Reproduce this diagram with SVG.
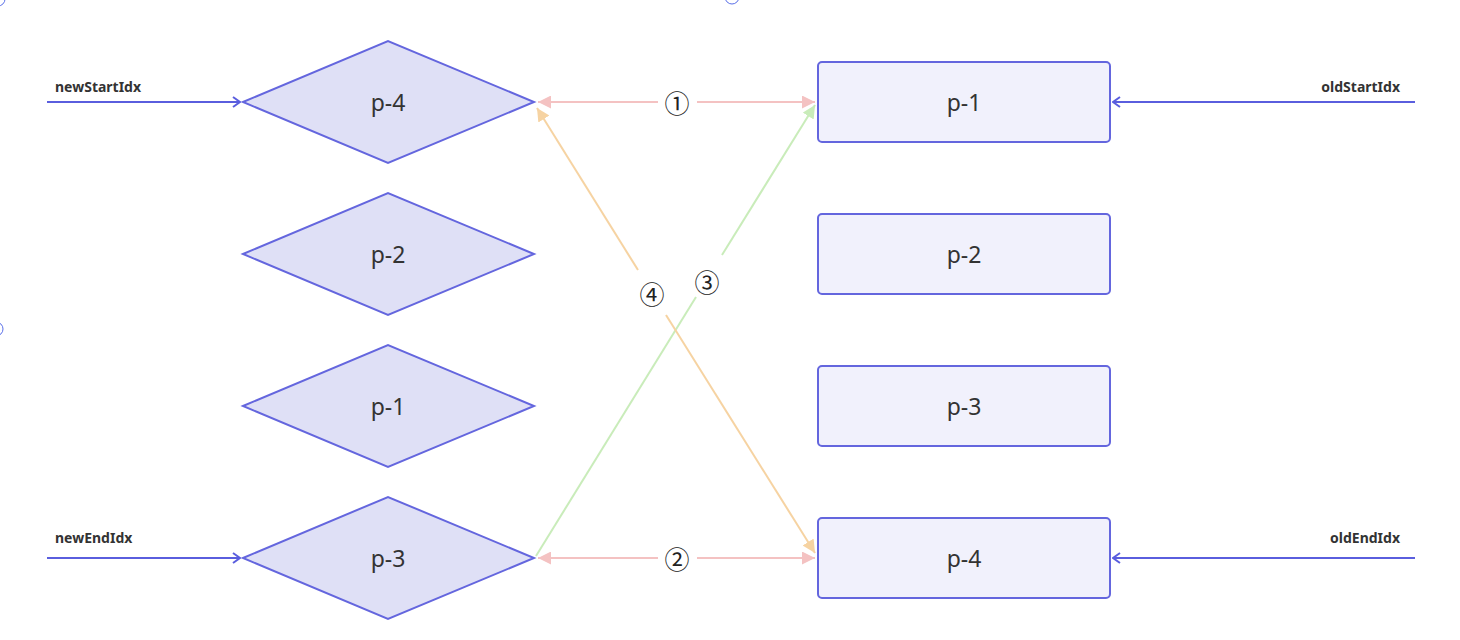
<svg xmlns="http://www.w3.org/2000/svg" width="1460" height="640" viewBox="0 0 1460 640">
<defs>
<style>
.dia{fill:#dfe0f6;stroke:#6466de;stroke-width:2}
.box{fill:#f1f1fc;stroke:#6466de;stroke-width:2}
.nt{font-family:"Source Sans Pro","Noto Sans","Open Sans",sans-serif;font-size:23px;fill:#333;text-anchor:middle;dominant-baseline:central}
.lbl{font-family:"Noto Sans","Open Sans",sans-serif;font-size:14px;font-weight:bold;fill:#333}
.ptr{stroke:#5a5ede;stroke-width:2;fill:none}
.num{font-family:"Noto Sans CJK SC","Noto Sans CJK JP","DejaVu Sans",sans-serif;font-size:25px;fill:#222;text-anchor:middle;dominant-baseline:central}
.pink{stroke:#f4c2c2;stroke-width:2;fill:none}
.orange{stroke:#f6d3a2;stroke-width:2;fill:none}
.green{stroke:#c9ecba;stroke-width:2;fill:none}
.handle{fill:none;stroke:#5a6fe8;stroke-width:1}
</style>
<marker id="chev" viewBox="0 0 12 12" refX="11" refY="6" markerWidth="12" markerHeight="12" markerUnits="userSpaceOnUse" orient="auto">
<path d="M4,1 L11,6 L4,11" fill="none" stroke="#5a5ede" stroke-width="2"/>
</marker>
<marker id="tp" viewBox="0 0 14 14" refX="14" refY="7" markerWidth="13" markerHeight="13" markerUnits="userSpaceOnUse" orient="auto">
<path d="M0,0 L14,7 L0,14 Z" fill="#f4c2c2"/>
</marker>
<marker id="to" viewBox="0 0 14 14" refX="14" refY="7" markerWidth="13" markerHeight="13" markerUnits="userSpaceOnUse" orient="auto">
<path d="M0,0 L14,7 L0,14 Z" fill="#f6d3a2"/>
</marker>
<marker id="tg" viewBox="0 0 14 14" refX="14" refY="7" markerWidth="13" markerHeight="13" markerUnits="userSpaceOnUse" orient="auto">
<path d="M0,0 L14,7 L0,14 Z" fill="#c9ecba"/>
</marker>
</defs>
<rect width="1460" height="640" fill="#fff"/>
<circle class="handle" cx="-2" cy="-1" r="7"/>
<circle class="handle" cx="732" cy="-3" r="7"/>
<circle class="handle" cx="-4" cy="329" r="7"/>

<g id="connectors">
<line class="ptr" x1="47" y1="102" x2="240" y2="102" marker-end="url(#chev)"/>
<line class="ptr" x1="47" y1="558" x2="240" y2="558" marker-end="url(#chev)"/>
<line class="ptr" x1="1415" y1="102" x2="1113" y2="102" marker-end="url(#chev)"/>
<line class="ptr" x1="1415" y1="558" x2="1113" y2="558" marker-end="url(#chev)"/>
<text class="lbl" x="55" y="92">newStartIdx</text>
<text class="lbl" x="55" y="543">newEndIdx</text>
<text class="lbl" x="1400" y="92" text-anchor="end">oldStartIdx</text>
<text class="lbl" x="1400" y="543" text-anchor="end">oldEndIdx</text>

<line class="pink" x1="658" y1="102" x2="538" y2="102" marker-end="url(#tp)"/>
<line class="pink" x1="697" y1="102" x2="815" y2="102" marker-end="url(#tp)"/>
<text class="num" x="677" y="102">①</text>
<line class="pink" x1="658" y1="558" x2="538" y2="558" marker-end="url(#tp)"/>
<line class="pink" x1="697" y1="558" x2="815" y2="558" marker-end="url(#tp)"/>
<text class="num" x="677" y="558">②</text>

<line class="green" x1="536" y1="556" x2="696" y2="297"/>
<line class="green" x1="722" y1="255" x2="815" y2="105" marker-end="url(#tg)"/>
<text class="num" x="707" y="281">③</text>

<line class="orange" x1="666" y1="315" x2="815" y2="553" marker-end="url(#to)"/>
<line class="orange" x1="638" y1="270" x2="537" y2="108" marker-end="url(#to)"/>
<text class="num" x="652" y="293">④</text>
</g>

<g id="new-p4"><polygon class="dia" points="243,102 388,41 534,102 388,163"/><text class="nt" x="388" y="102">p-4</text></g>
<g id="new-p2"><polygon class="dia" points="243,254 388,193 534,254 388,315"/><text class="nt" x="388" y="254">p-2</text></g>
<g id="new-p1"><polygon class="dia" points="243,406 388,345 534,406 388,467"/><text class="nt" x="388" y="406">p-1</text></g>
<g id="new-p3"><polygon class="dia" points="243,558 388,497 534,558 388,619"/><text class="nt" x="388" y="558">p-3</text></g>

<g id="old-p1"><rect class="box" x="818" y="62" width="292" height="80" rx="4"/><text class="nt" x="964" y="102">p-1</text></g>
<g id="old-p2"><rect class="box" x="818" y="214" width="292" height="80" rx="4"/><text class="nt" x="964" y="254">p-2</text></g>
<g id="old-p3"><rect class="box" x="818" y="366" width="292" height="80" rx="4"/><text class="nt" x="964" y="406">p-3</text></g>
<g id="old-p4"><rect class="box" x="818" y="518" width="292" height="80" rx="4"/><text class="nt" x="964" y="558">p-4</text></g>
</svg>
